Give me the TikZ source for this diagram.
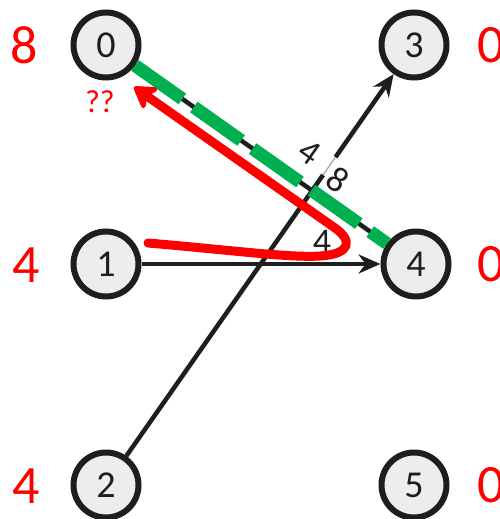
\documentclass[tikz,border=0pt]{standalone}
\usepackage{fontspec}
\setmainfont{Carlito}
\usetikzlibrary{arrows.meta,calc}
\definecolor{gfill}{HTML}{EDEDED}
\definecolor{dgreen}{HTML}{00B050}
\definecolor{ink}{HTML}{1E1E1E}
\begin{document}
\begin{tikzpicture}[x=1pt,y=-1pt,
  vtx/.style={circle, draw=ink, line width=6pt, fill=gfill, minimum size=65pt, inner sep=0pt, font=\fontsize{38}{38}\selectfont, text=ink},
  dist/.style={text=red, font=\fontsize{54}{54}\selectfont, inner sep=0pt},
  elabel/.style={font=\fontsize{36}{36}\selectfont, text=ink, inner sep=0pt},
  blackedge/.style={draw=ink, line width=4.5pt, -{Stealth[length=22pt,width=19pt]}},
  plainedge/.style={draw=ink, line width=4.5pt},
  greendash/.style={draw=dgreen, line width=13pt, dash pattern=on 58pt off 14pt},
  redpath/.style={draw=red, line width=9pt, line cap=round, -{Stealth[length=26pt,width=32pt,inset=8pt,round]}}]
\useasboundingbox (0,0) rectangle (499,519);
% edges
\draw[plainedge] (106,45) -- (416,264);
% vertices
\node[vtx] (n0) at (106,45) {0};
\node[vtx] (n1) at (106,264) {1};
\node[vtx] (n2) at (106,485) {2};
\node[vtx] (n3) at (414,45) {3};
\node[vtx] (n4) at (416,264) {4};
\node[vtx] (n5) at (414,485) {5};
% distances
\node[dist] (d0) at (24,45) {8};
\node[dist] (d1) at (26,265) {4};
\node[dist] (d2) at (26,486) {4};
\node[dist, anchor=west] (d3) at (477,45) {0};
\node[dist, anchor=west] (d4) at (477,264) {0};
\node[dist, anchor=west] (d5) at (477,485) {0};
% edges between vertices
\draw[blackedge] (n1) -- (n4);
\draw[blackedge] (n2) -- (n3);
% faded piece of the 2-3 edge behind the label
\draw[white, line width=6pt] ($(n2)!0.705!(n3)$) -- ($(n2)!0.745!(n3)$);
\draw[gray!70, line width=1.3pt] ($(n2)!0.705!(n3)$) -- ($(n2)!0.745!(n3)$);
\draw[greendash] (n0) -- (n4);
% edge labels
\node[elabel, rotate=-35] (l04a) at (310,152) {4};
\node[elabel, rotate=-35] (l04b) at (338,180) {8};
\node[elabel] (l14) at (322,242) {4};
% red annotation
\coordinate (rs) at (148,243);
\coordinate (re) at (134,87);
\draw[redpath] (rs) .. controls (230,250) and (290,258) .. (320,256) .. controls (352,254) and (352,240) .. (335,228) -- (re);
\node[text=red, font=\fontsize{32}{32}\selectfont, inner sep=0pt] (qq) at (100,102) {??};
\end{tikzpicture}
\end{document}
